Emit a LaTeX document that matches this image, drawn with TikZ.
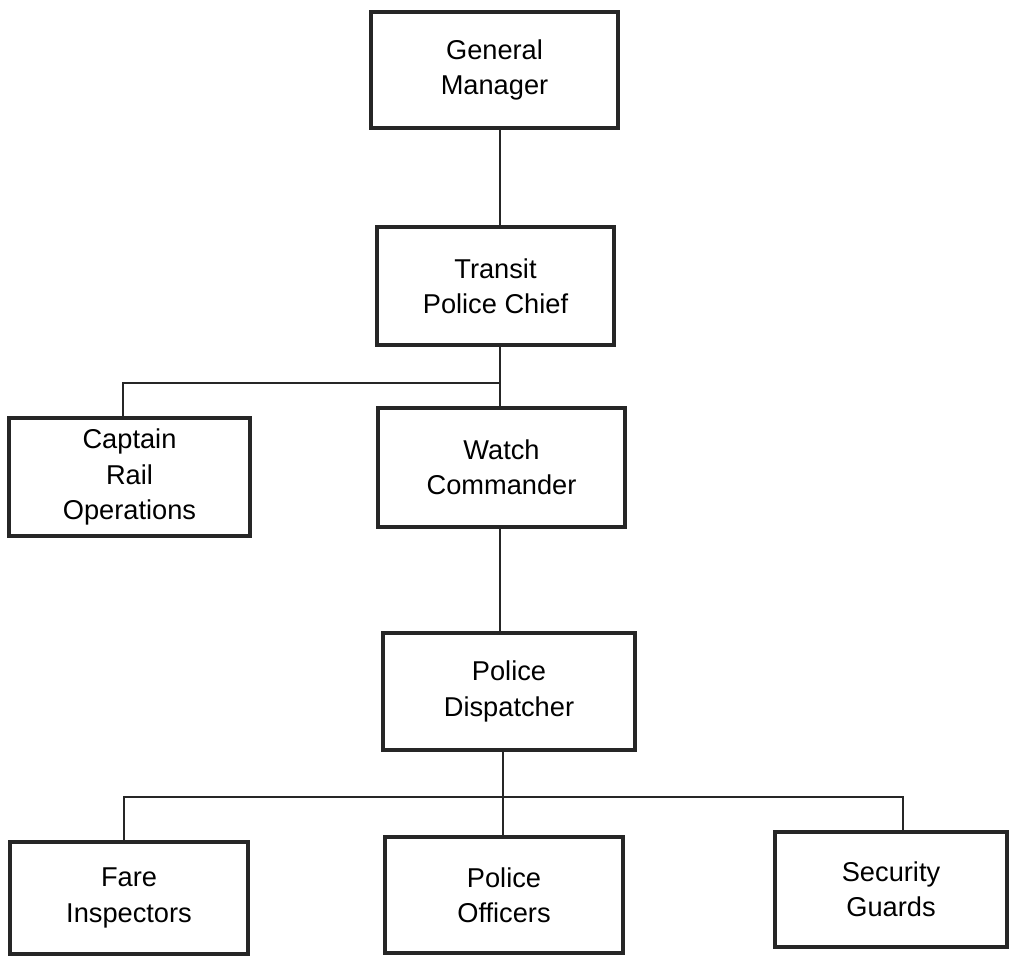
\documentclass[tikz,border=0pt]{standalone}
\usepackage{fontspec}
\setmainfont{Liberation Sans}
\definecolor{orgink}{HTML}{262626}
\tikzset{
  post/.style={rectangle, draw=orgink, line width=2.4pt, align=center,
               inner sep=2pt, font=\fontsize{15.5}{20}\selectfont},
  link/.style={draw=orgink, line width=1.1pt},
}

\begin{document}
\begin{tikzpicture}[x=0.02cm, y=-0.02cm]
  \useasboundingbox (0,0) rectangle (1010,956);
  % top of the chain
  \node[post, minimum width=4.94cm, minimum height=2.32cm] (gm)  at (494.5,70)    {General\\Manager};
  \node[post, minimum width=4.74cm, minimum height=2.36cm] (tpc) at (495.5,286)   {Transit\\Police Chief};
  \node[post, minimum width=4.82cm, minimum height=2.36cm] (cro) at (129.5,477)   {Captain\\Rail\\Operations};
  \node[post, minimum width=4.94cm, minimum height=2.38cm] (wc)  at (501.5,467.5) {Watch\\Commander};
  \node[post, minimum width=5.04cm, minimum height=2.34cm] (pd)  at (509,691.5)   {Police\\Dispatcher};
  % bottom row
  \node[post, minimum width=4.76cm, minimum height=2.24cm] (fare) at (129,898)    {Fare\\Inspectors};
  \node[post, minimum width=4.76cm, minimum height=2.32cm] (po)   at (504,895)    {Police\\Officers};
  \node[post, minimum width=4.64cm, minimum height=2.30cm] (sg)   at (891,889.5)  {Security\\Guards};

  \coordinate (trunk) at (500,0);
  \coordinate (upfork) at (123,383);
  \coordinate (lowtrunk) at (503,0);
  \coordinate (lowleft) at (124,797);
  \coordinate (lowright) at (903,797);

  \draw[link] (gm.south -| trunk) -- (tpc.north -| trunk);
  \draw[link] (tpc.south -| trunk) -- (wc.north -| trunk);
  \draw[link] (trunk |- upfork) -- (upfork) -- (upfork |- cro.north);
  \draw[link] (wc.south -| trunk) -- (pd.north -| trunk);
  \draw[link] (pd.south -| lowtrunk) -- (po.north -| lowtrunk);
  \draw[link] (lowleft |- fare.north) -- (lowleft) -- (lowright) -- (lowright |- sg.north);
\end{tikzpicture}
\end{document}
